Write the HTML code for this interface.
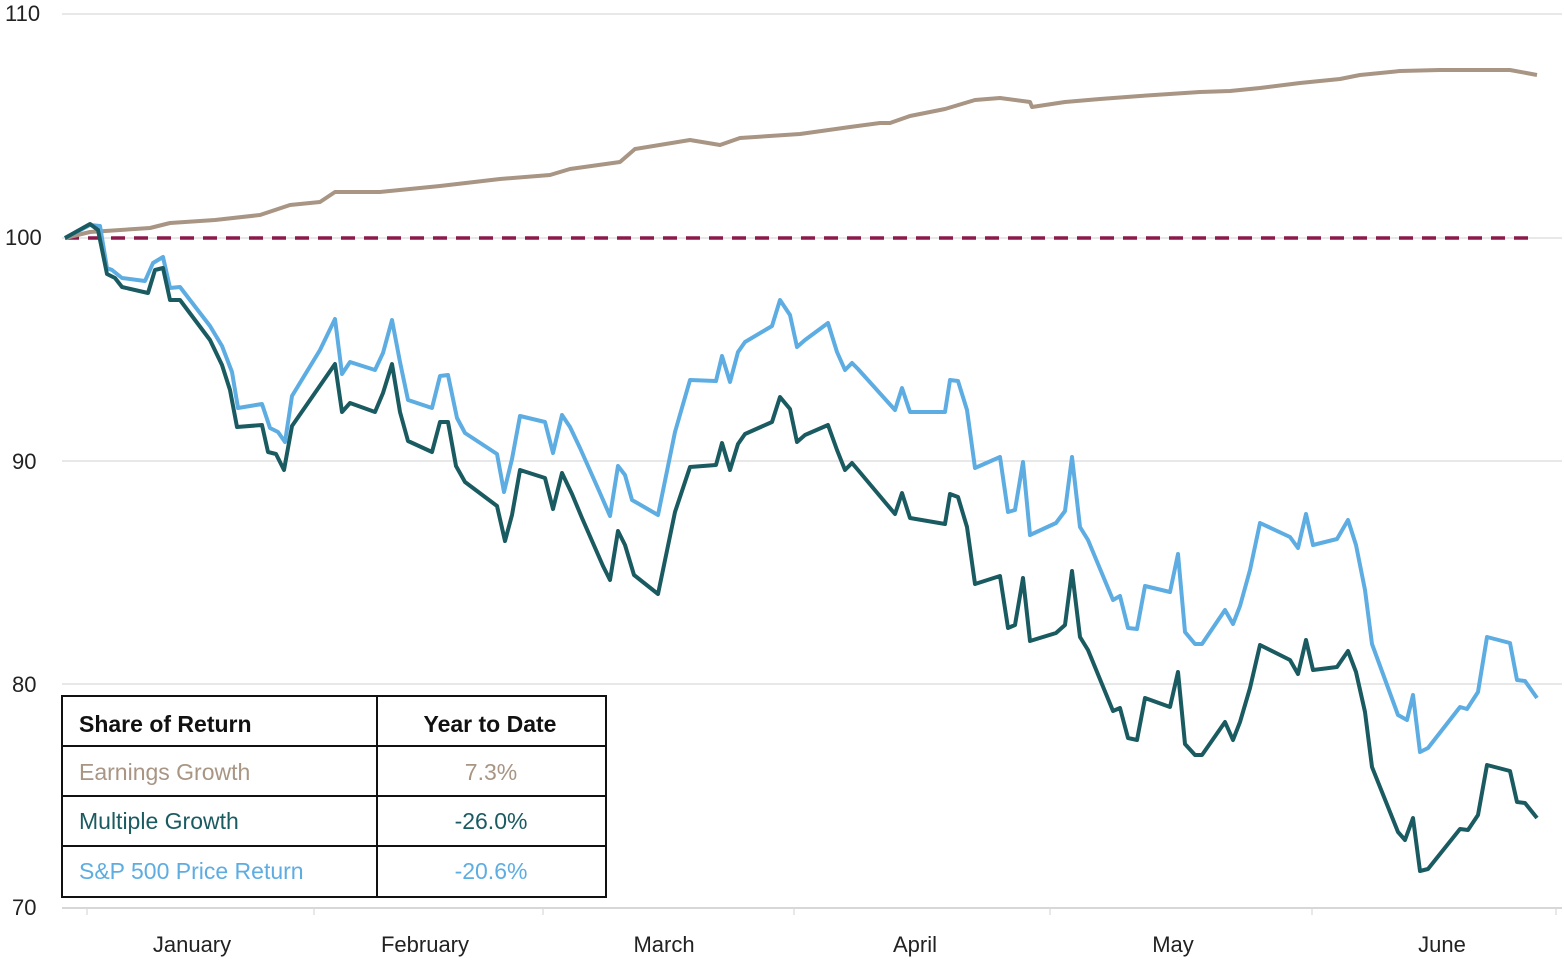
<!DOCTYPE html>
<html><head><meta charset="utf-8"><style>
body{margin:0;background:#fff;}
svg text{font-family:"Liberation Sans",sans-serif;}
</style></head><body>
<svg width="1564" height="960" viewBox="0 0 1564 960" xmlns="http://www.w3.org/2000/svg">
<g stroke="#d9d9d9" stroke-width="1.2">
<line x1="62" y1="14" x2="1562" y2="14"/>
<line x1="62" y1="238" x2="1562" y2="238"/>
<line x1="62" y1="461" x2="1562" y2="461"/>
<line x1="62" y1="684" x2="1562" y2="684"/>
<line x1="62" y1="908" x2="1562" y2="908" stroke="#bfbfbf"/>
<line x1="87" y1="908" x2="87" y2="915"/><line x1="314" y1="908" x2="314" y2="915"/>
<line x1="543" y1="908" x2="543" y2="915"/><line x1="794" y1="908" x2="794" y2="915"/>
<line x1="1050" y1="908" x2="1050" y2="915"/><line x1="1312" y1="908" x2="1312" y2="915"/>
<line x1="1556" y1="908" x2="1556" y2="915"/>
</g>
<g font-size="22" fill="#222">
<text x="5" y="21">110</text><text x="5" y="245">100</text><text x="12" y="469">90</text>
<text x="12" y="692">80</text><text x="12" y="915">70</text>
</g>
<g font-size="22" fill="#222" text-anchor="middle">
<text x="192" y="952">January</text><text x="425" y="952">February</text><text x="664" y="952">March</text>
<text x="915" y="952">April</text><text x="1173" y="952">May</text><text x="1442" y="952">June</text>
</g>
<line x1="65" y1="238" x2="1537" y2="238" stroke="#8b1a4a" stroke-width="3.5" stroke-dasharray="14,9"/>
<g fill="none" stroke-width="4" stroke-linejoin="round">
<polyline stroke="#a89584" points="65,238 90,232 150,228 170,223 215,220 260,215 290,205 320,202 335,192 380,192 440,186 500,179 550,175 570,169 620,162 635,149 690,140 720,145 740,138 800,134 850,127 880,123 890,123 910,116 945,109 975,100 1000,98 1030,102 1032,107 1065,102 1100,99 1140,96 1200,92 1230,91 1260,88 1300,83 1340,79 1360,75 1400,71 1440,70 1510,70 1537,75"/>
<polyline stroke="#5dade2" points="65,238 90,225 100,226 107,268 112,270 122,278 145,281 153,263 163,257 170,288 180,287 210,326 222,346 232,372 238,408 262,404 270,428 278,432 285,442 292,396 320,350 335,319 342,374 350,362 375,370 383,353 392,320 400,362 408,400 432,408 440,376 448,375 457,418 465,433 497,454 504,492 512,459 520,416 545,422 553,453 562,415 570,427 580,448 600,493 610,516 618,466 625,475 632,500 658,515 675,432 690,380 716,381 722,356 730,382 738,352 745,342 772,326 780,300 790,315 797,347 805,340 828,323 837,352 845,370 852,363 858,369 895,410 902,388 910,412 945,412 950,380 958,381 967,410 975,468 1000,457 1008,512 1015,510 1023,462 1030,535 1056,523 1065,511 1072,457 1080,527 1088,540 1113,600 1120,596 1128,628 1137,629 1145,586 1170,592 1178,554 1185,632 1195,644 1202,644 1225,610 1233,624 1240,606 1250,570 1260,523 1290,537 1298,548 1306,514 1313,545 1337,539 1348,520 1356,545 1365,590 1372,644 1398,715 1407,720 1413,695 1420,752 1428,748 1460,707 1467,709 1478,692 1487,637 1510,643 1517,680 1525,681 1537,698"/>
<polyline stroke="#1a5b61" points="65,238 90,224 98,230 107,274 115,278 122,287 148,293 155,270 163,268 170,300 180,300 210,340 222,365 230,390 237,427 262,425 268,452 276,454 284,470 292,426 335,364 342,412 350,403 375,412 383,393 392,364 400,412 408,441 432,452 440,422 448,422 456,466 465,482 497,506 505,541 512,515 520,470 545,478 553,509 562,473 572,494 582,518 603,566 610,580 618,531 625,545 634,575 658,594 675,512 690,467 716,465 722,443 730,470 738,444 745,434 772,422 780,397 790,409 797,442 805,435 828,425 837,450 845,470 852,463 858,470 895,514 902,493 910,518 945,524 950,494 958,497 967,527 975,584 1000,576 1008,628 1015,625 1023,578 1030,641 1056,633 1065,625 1072,571 1080,637 1088,650 1113,711 1120,708 1128,738 1137,740 1145,698 1170,707 1178,672 1185,744 1195,755 1202,755 1225,722 1233,740 1240,722 1250,688 1260,645 1290,660 1298,674 1306,640 1313,670 1337,667 1348,651 1356,672 1365,712 1372,767 1398,832 1405,840 1413,818 1420,871 1428,869 1460,829 1468,830 1478,815 1487,765 1510,771 1517,802 1525,803 1537,818"/>
</g>
<rect x="62" y="696" width="544" height="201" fill="#fff" stroke="#111" stroke-width="2"/>
<g stroke="#111" stroke-width="2">
<line x1="377" y1="696" x2="377" y2="897"/>
<line x1="62" y1="746" x2="606" y2="746"/>
<line x1="62" y1="796" x2="606" y2="796"/>
<line x1="62" y1="846" x2="606" y2="846"/>
</g>
<g font-size="23">
<text x="79" y="732" font-weight="bold" fill="#111">Share of Return</text>
<text x="490" y="732" font-weight="bold" fill="#111" text-anchor="middle">Year to Date</text>
<text x="79" y="780" fill="#a89584">Earnings Growth</text>
<text x="491" y="780" fill="#a89584" text-anchor="middle">7.3%</text>
<text x="79" y="829" fill="#1a5b61">Multiple Growth</text>
<text x="491" y="829" fill="#1a5b61" text-anchor="middle">-26.0%</text>
<text x="79" y="879" fill="#5dade2">S&amp;P 500 Price Return</text>
<text x="491" y="879" fill="#5dade2" text-anchor="middle">-20.6%</text>
</g>
</svg>
</body></html>
